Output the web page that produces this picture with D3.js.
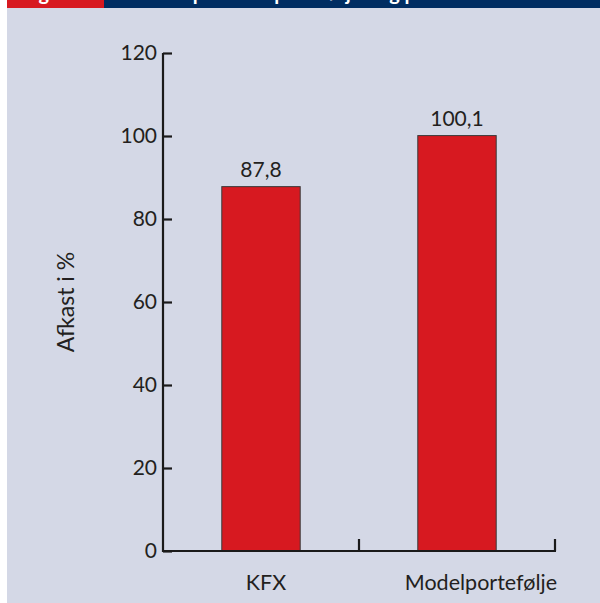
<!DOCTYPE html>
<html>
<head>
<meta charset="utf-8">
<script src="https://cdn.jsdelivr.net/npm/d3@7"></script>
<style>
  body { margin: 0; background: #fff; }
  svg { display: block; font-family: Lato, "Open Sans", sans-serif; }
</style>
</head>
<body>
<svg id="chart" width="600" height="603"></svg>
<script>
const categories = ['KFX', 'Modelportefølje'];
const values = [87.8, 100.1];
const valueLabels = ['87,8', '100,1'];
const yTicks = [0, 20, 40, 60, 80, 100, 120];
const figTag = 'Figur 4';
const figTitle = 'Afkast på modelporteføljen og på KFX';
const yTitle = 'Afkast i %';

const svg = d3.select('#chart');
const W = 600, H = 603;
const LEFT = 163, RIGHT = 555, TOP = 53, BOTTOM = 551;

// panel background + header strip (title runs off the top like the source)
svg.append('rect').attr('x', 7).attr('y', 0).attr('width', W - 7).attr('height', H).attr('fill', '#d4d8e6');
svg.append('defs').append('clipPath').attr('id', 'hdr')
  .append('rect').attr('x', 7).attr('y', 0).attr('width', W - 7).attr('height', 8);
const hdr = svg.append('g').attr('clip-path', 'url(#hdr)');
hdr.append('rect').attr('x', 7).attr('y', 0).attr('width', 97).attr('height', 8).attr('fill', '#d71920');
hdr.append('rect').attr('x', 104).attr('y', 0).attr('width', W - 104).attr('height', 8).attr('fill', '#002d62');
hdr.append('text').attr('x', 22).attr('y', 0).attr('fill', '#fff').attr('font-weight', 'bold')
  .attr('font-size', 20).text(figTag);
hdr.append('text').attr('x', 130).attr('y', 0).attr('fill', '#fff').attr('font-weight', 'bold')
  .attr('font-size', 20).text(figTitle);

const x = d3.scaleBand().domain(categories).range([LEFT, RIGHT]).paddingInner(0).paddingOuter(0);
const y = d3.scaleLinear().domain([0, 120]).range([BOTTOM, TOP]);
const barW = x.bandwidth() * 0.4;

// bars
svg.selectAll('rect.bar')
  .data(values)
  .enter()
  .append('rect')
  .attr('class', 'bar')
  .attr('x', (d, i) => x(categories[i]) + x.bandwidth() / 2 - barW / 2)
  .attr('y', (d) => y(d))
  .attr('width', barW)
  .attr('height', (d) => y(0) - y(d))
  .attr('fill', '#d71920')
  .attr('stroke', '#3a3a3a')
  .attr('stroke-width', 1);

// value labels
svg.selectAll('text.val')
  .data(values)
  .enter()
  .append('text')
  .attr('class', 'val')
  .attr('x', (d, i) => x(categories[i]) + x.bandwidth() / 2)
  .attr('y', (d) => y(d) - 10)
  .attr('text-anchor', 'middle')
  .attr('font-size', 21)
  .attr('fill', '#231f20')
  .text((d, i) => valueLabels[i]);

// y axis
const yAxis = d3.axisRight(y).tickValues(yTicks).tickSize(9).tickFormat(d3.format('d'));
const gy = svg.append('g').attr('transform', 'translate(' + LEFT + ',0)').call(yAxis);
gy.select('.domain').remove();
gy.append('line').attr('x1', 0).attr('x2', 0).attr('y1', y(120)).attr('y2', y(0) + 1)
  .attr('stroke', '#1a1a1a').attr('stroke-width', 2.2);
gy.selectAll('.tick line').attr('stroke', '#1a1a1a').attr('stroke-width', 2.2);
gy.selectAll('.tick text').attr('x', -6).attr('text-anchor', 'end')
  .attr('font-size', 21).attr('fill', '#231f20').attr('font-family', 'Lato, sans-serif');

// x axis with ticks at category boundaries
const bounds = categories.map((c) => x(c) + x.bandwidth());
const gx = svg.append('g');
gx.append('line').attr('x1', LEFT - 1).attr('x2', RIGHT + 1).attr('y1', y(0)).attr('y2', y(0))
  .attr('stroke', '#1a1a1a').attr('stroke-width', 2.2);
gx.selectAll('line.bt').data(bounds).enter().append('line').attr('class', 'bt')
  .attr('x1', (d) => d).attr('x2', (d) => d).attr('y1', y(0)).attr('y2', y(0) - 12)
  .attr('stroke', '#1a1a1a').attr('stroke-width', 2.2);
gx.selectAll('text').data(categories).enter().append('text')
  .attr('x', (d, i) => i === categories.length - 1 ? RIGHT + 2 : x(d) + x.bandwidth() / 2 + 5)
  .attr('y', y(0) + 39)
  .attr('text-anchor', (d, i) => i === categories.length - 1 ? 'end' : 'middle')
  .attr('font-size', 21.5)
  .attr('fill', '#231f20')
  .text((d) => d);

// y title
svg.append('text')
  .attr('transform', 'translate(74,' + y(60) + ') rotate(-90)')
  .attr('text-anchor', 'middle')
  .attr('font-size', 23)
  .attr('fill', '#231f20')
  .text(yTitle);
</script>
</body>
</html>
